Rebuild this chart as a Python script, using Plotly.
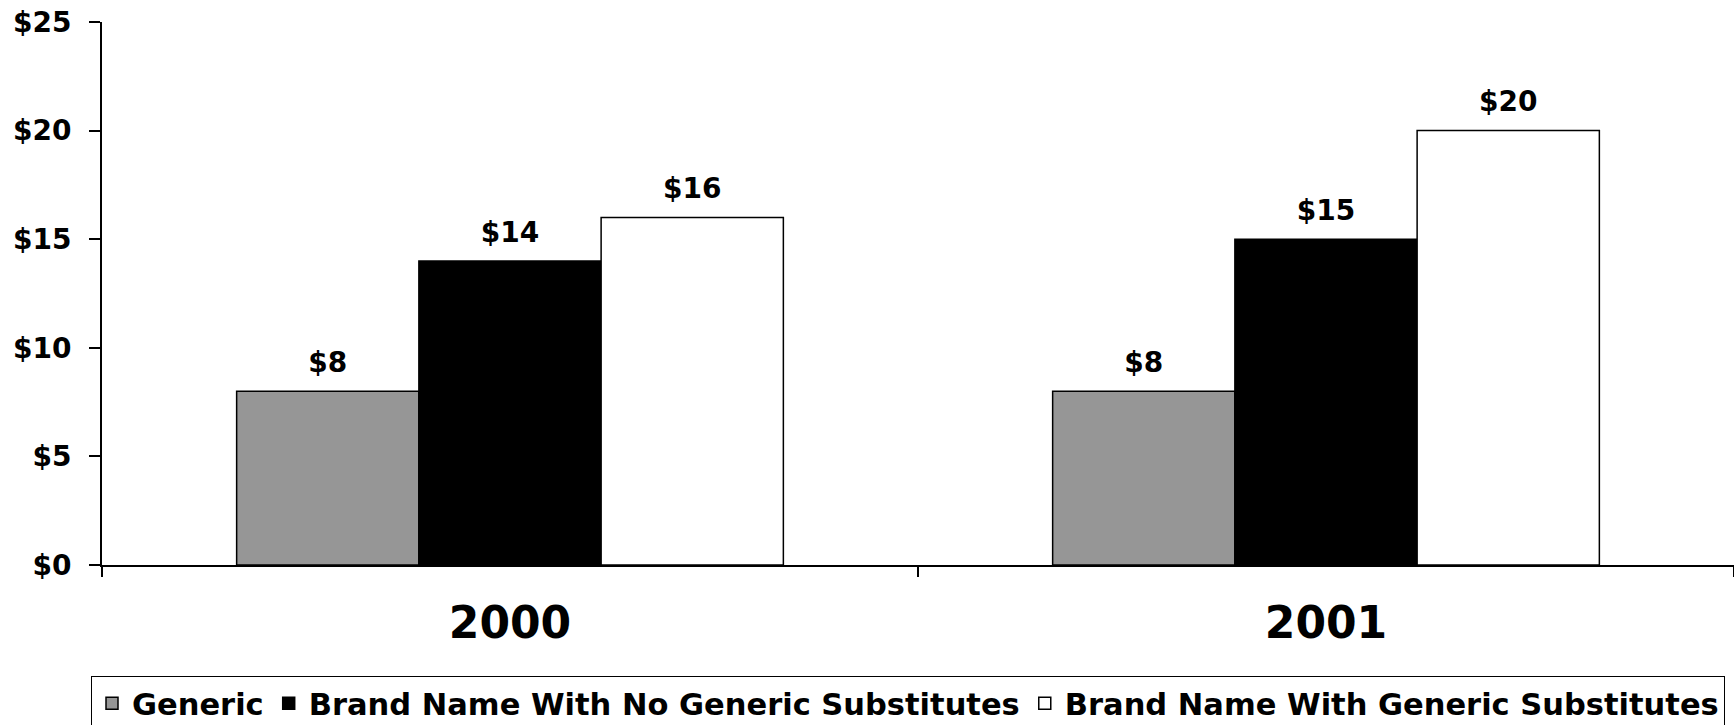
import plotly.graph_objects as go

# Average prescription price by drug type, per year
years = ["2000", "2001"]
series_names = [
    "Generic",
    "Brand Name With No Generic Substitutes",
    "Brand Name With Generic Substitutes",
]
generic = [8, 8]
brand_no_generic = [14, 15]
brand_with_generic = [16, 20]
y_ticks = [0, 5, 10, 15, 20, 25]
y_tick_labels = [f"${v}" for v in y_ticks]

fill_colors = ["#969696", "#000000", "#ffffff"]
FONT = "DejaVu Sans"
GAP = 0.33

series_values = [generic, brand_no_generic, brand_with_generic]

fig = go.Figure()

for name, vals, color in zip(series_names, series_values, fill_colors):
    fig.add_bar(
        x=years,
        y=vals,
        name=name,
        offsetgroup=name,
        marker=dict(color=color, line=dict(color="black", width=1.5)),
        hoverinfo="skip",
    )

# Value labels sit above each bar, aligned with the grouped bars
for name, vals in zip(series_names, series_values):
    fig.add_scatter(
        x=years,
        y=vals,
        mode="markers+text",
        offsetgroup=name,
        text=[f"${v}" for v in vals],
        textposition="top center",
        textfont=dict(family=FONT, size=28, weight="bold", color="black"),
        marker=dict(size=18, opacity=0),
        showlegend=False,
        hoverinfo="skip",
        cliponaxis=False,
    )

fig.update_layout(
    width=1734,
    height=725,
    margin=dict(l=102, r=0, t=22, b=160),
    paper_bgcolor="white",
    plot_bgcolor="white",
    barmode="group",
    bargap=GAP,
    bargroupgap=0,
    scattermode="group",
    scattergap=GAP,
    font=dict(family=FONT, color="black"),
    showlegend=True,
    legend=dict(
        orientation="h",
        xref="container",
        yref="container",
        x=908 / 1734,
        xanchor="center",
        y=(725 - 676) / 725,
        yanchor="top",
        bordercolor="black",
        borderwidth=1,
        bgcolor="white",
        font=dict(family=FONT, size=30.5, weight="bold", color="black"),
        traceorder="normal",
    ),
)

fig.update_xaxes(
    type="category",
    showline=True,
    linecolor="black",
    linewidth=2,
    ticks="outside",
    tickson="boundaries",
    ticklen=10,
    tickwidth=2,
    tickcolor="black",
    showgrid=False,
    tickfont=dict(family=FONT, size=44, weight="bold", color="black"),
    ticklabelstandoff=18,
)

fig.update_yaxes(
    range=[0, 25],
    tickmode="array",
    tickvals=y_ticks,
    ticktext=y_tick_labels,
    showline=True,
    linecolor="black",
    linewidth=2,
    ticks="outside",
    ticklen=11,
    tickwidth=2,
    tickcolor="black",
    showgrid=False,
    zeroline=False,
    tickfont=dict(family=FONT, size=28, weight="bold", color="black"),
    ticklabelstandoff=12,
)

fig.write_html("out.html")
